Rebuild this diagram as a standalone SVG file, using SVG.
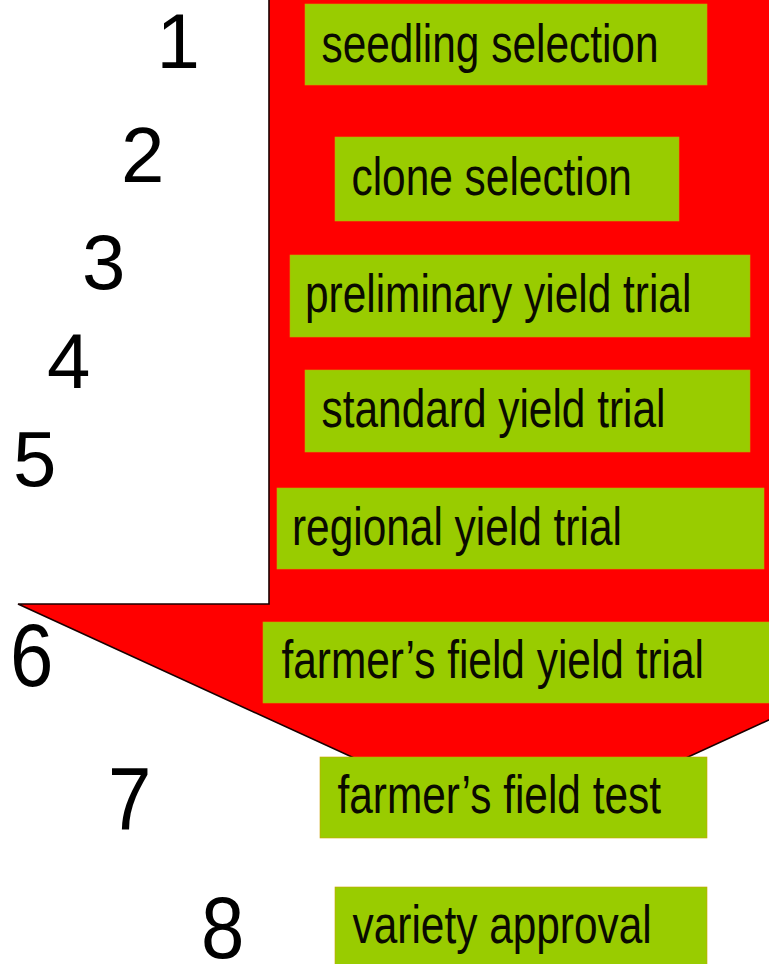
<svg xmlns="http://www.w3.org/2000/svg" width="769" height="964" viewBox="0 0 769 964">
<style>
.box{fill:#99cc00;stroke:#c9a400;stroke-width:0.6}
.lbl{font-family:"Liberation Sans",Arial,sans-serif;font-size:53px;fill:#0a0a00}
.num{font-family:"Liberation Sans",Arial,sans-serif;font-size:78px;fill:#000}
.arrow{fill:#ff0000;stroke:#1a0000;stroke-width:1.6;stroke-linejoin:miter}
</style>
<rect width="769" height="964" fill="#ffffff"/>
<g id="connectors">
<polygon id="flow-arrow" class="arrow" points="269,-2 269,604 18,604 520,834 1022,604 772,604 772,-2"/>
</g>
<g id="step1">
<rect class="box" x="305" y="4" width="402" height="81"/>
<text class="lbl" transform="translate(321.5,62) scale(0.8,1)">seedling selection</text>
<text class="num" x="156.5" y="68">1</text>
</g>
<g id="step2">
<rect class="box" x="335" y="137" width="344" height="84"/>
<text class="lbl" transform="translate(351.5,195) scale(0.8,1)">clone selection</text>
<text class="num" x="121" y="182">2</text>
</g>
<g id="step3">
<rect class="box" x="290" y="255" width="460" height="82"/>
<text class="lbl" transform="translate(305,312) scale(0.8,1)">preliminary yield trial</text>
<text class="num" x="82" y="289">3</text>
</g>
<g id="step4">
<rect class="box" x="305" y="370" width="445" height="82"/>
<text class="lbl" transform="translate(321.5,427) scale(0.8,1)">standard yield trial</text>
<text class="num" x="47" y="388">4</text>
</g>
<g id="step5">
<rect class="box" x="277" y="488" width="487" height="81"/>
<text class="lbl" transform="translate(292,545) scale(0.8,1)">regional yield trial</text>
<text class="num" x="13" y="486">5</text>
</g>
<g id="step6">
<rect class="box" x="263" y="622" width="510" height="81"/>
<text class="lbl" transform="translate(281.5,678) scale(0.8,1)">farmer’s field yield trial</text>
<text class="num" transform="translate(10,686) scale(1,1.14)">6</text>
</g>
<g id="step7">
<rect class="box" x="320" y="757" width="387" height="81"/>
<text class="lbl" transform="translate(337.5,813) scale(0.8,1)">farmer’s field test</text>
<text class="num" transform="translate(108,830) scale(1,1.14)">7</text>
</g>
<g id="step8">
<rect class="box" x="335" y="887" width="372" height="80"/>
<text class="lbl" transform="translate(352.5,943) scale(0.8,1)">variety approval</text>
<text class="num" transform="translate(201,958) scale(1,1.12)">8</text>
</g>
</svg>
